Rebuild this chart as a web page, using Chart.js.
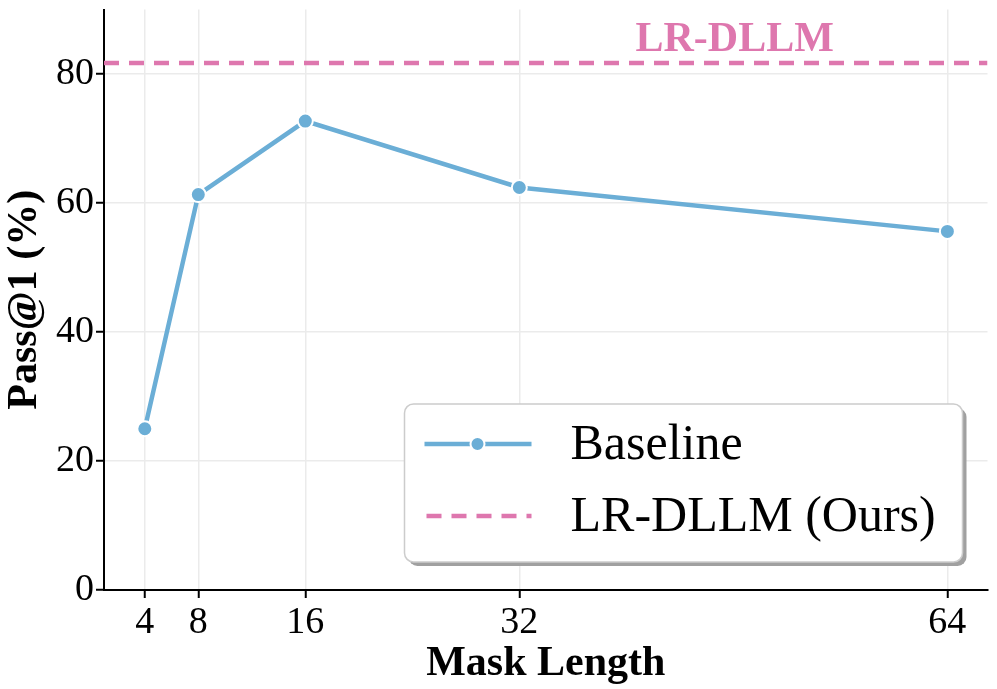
<!DOCTYPE html>
<html>
<head>
<meta charset="utf-8">
<script src="https://cdn.jsdelivr.net/npm/chart.js@4"></script>
<style>
  body { margin: 0; background: #fff; }
  canvas { display: block; }
</style>
</head>
<body>
<canvas id="lineChart" width="997" height="689"></canvas>
<script>
// mask lengths and scores
const maskLengths = [4, 8, 16, 32, 64];
const baselineScores = [25.0, 61.3, 72.7, 62.4, 55.6];
const oursScore = 81.7;
const yTicks = [0, 20, 40, 60, 80];
const xMin = 0.95, xMax = 67.0;

const blue = '#6baed6';
const pink = '#de77ae';
const serif = "'Liberation Serif', 'DejaVu Serif', serif";

// legend box with drop shadow, plus the label over the dashed line
const extras = {
    id: 'extras',
    afterDraw(chart) {
        const ctx = chart.ctx;
        const area = chart.chartArea;
        const yScale = chart.scales.y;
        const xScale = chart.scales.x;

        // "LR-DLLM" label above the dashed line
        ctx.save();
        ctx.fillStyle = pink;
        ctx.font = 'bold 42px ' + serif;
        ctx.textAlign = 'center';
        ctx.textBaseline = 'alphabetic';
        ctx.fillText('LR-DLLM', xScale.getPixelForValue(48.1), yScale.getPixelForValue(oursScore) - 12);
        ctx.restore();

        // legend
        const w = 558, h = 158;
        const bx = area.right - 25 - w;
        const by = area.bottom - 28 - h;
        ctx.save();
        ctx.fillStyle = '#a0a0a0';
        ctx.beginPath();
        ctx.roundRect(bx + 4, by + 4, w, h, 9);
        ctx.fill();
        ctx.fillStyle = '#fff';
        ctx.strokeStyle = '#cccccc';
        ctx.lineWidth = 1.5;
        ctx.beginPath();
        ctx.roundRect(bx, by, w, h, 9);
        ctx.fill();
        ctx.stroke();

        const ds = chart.data.datasets;
        const rows = [by + 40, by + 112];
        ctx.font = '50px ' + serif;
        ctx.fillStyle = '#000';
        ctx.textBaseline = 'middle';
        ctx.textAlign = 'left';

        // row 1: solid line with marker
        ctx.strokeStyle = blue;
        ctx.lineWidth = 4.5;
        ctx.setLineDash([]);
        ctx.beginPath();
        ctx.moveTo(bx + 20, rows[0]);
        ctx.lineTo(bx + 127, rows[0]);
        ctx.stroke();
        ctx.beginPath();
        ctx.arc(bx + 73, rows[0], 7, 0, Math.PI * 2);
        ctx.fillStyle = blue;
        ctx.fill();
        ctx.strokeStyle = '#fff';
        ctx.lineWidth = 2;
        ctx.stroke();
        ctx.fillStyle = '#000';
        ctx.fillText(ds[0].label, bx + 166, rows[0] + 2);

        // row 2: dashed line
        ctx.strokeStyle = pink;
        ctx.lineWidth = 4.5;
        ctx.setLineDash([15, 10]);
        ctx.beginPath();
        ctx.moveTo(bx + 22, rows[1]);
        ctx.lineTo(bx + 127, rows[1]);
        ctx.stroke();
        ctx.setLineDash([]);
        ctx.fillText(ds[1].label, bx + 166, rows[1] + 2);
        ctx.restore();
    }
};

new Chart(document.getElementById('lineChart'), {
    type: 'line',
    data: {
        datasets: [
            {
                label: 'Baseline',
                data: maskLengths.map((m, i) => ({ x: m, y: baselineScores[i] })),
                borderColor: blue,
                backgroundColor: blue,
                borderWidth: 4.5,
                pointRadius: 7.5,
                pointBorderColor: '#fff',
                pointBorderWidth: 2,
                pointBackgroundColor: blue,
                tension: 0
            },
            {
                label: 'LR-DLLM (Ours)',
                data: [{ x: xMin, y: oursScore }, { x: xMax, y: oursScore }],
                borderColor: pink,
                borderWidth: 4.5,
                borderDash: [15, 10],
                pointRadius: 0,
                fill: false
            }
        ]
    },
    options: {
        responsive: false,
        animation: false,
        layout: { padding: { top: 8, right: 9, left: 0, bottom: 0 } },
        plugins: {
            legend: { display: false },
            tooltip: { enabled: false }
        },
        scales: {
            x: {
                type: 'linear',
                min: xMin,
                max: xMax,
                afterBuildTicks: scale => {
                    scale.ticks = maskLengths.map(v => ({ value: v }));
                },
                afterFit: scale => { scale.height = 99; },
                grid: {
                    color: '#ebebeb',
                    lineWidth: 1.5,
                    tickColor: '#000',
                    tickLength: 8,
                    tickWidth: 2
                },
                border: { color: '#000', width: 2 },
                ticks: {
                    color: '#000',
                    font: { family: serif, size: 38 },
                    padding: 2,
                    maxRotation: 0,
                    autoSkip: false
                },
                title: {
                    display: true,
                    text: 'Mask Length',
                    color: '#000',
                    font: { family: serif, size: 42, weight: 'bold' },
                    padding: { top: 0, bottom: 0 }
                }
            },
            y: {
                min: 0,
                max: 90,
                afterBuildTicks: scale => {
                    scale.ticks = yTicks.map(v => ({ value: v }));
                },
                afterFit: scale => {
                    scale.width = 104;
                    scale.paddingTop = 0;
                    scale.paddingBottom = 0;
                },
                grid: {
                    color: '#ebebeb',
                    lineWidth: 1.5,
                    tickColor: '#000',
                    tickLength: 8,
                    tickWidth: 2
                },
                border: { color: '#000', width: 2 },
                ticks: {
                    color: '#000',
                    font: { family: serif, size: 38 },
                    padding: 2
                },
                title: {
                    display: true,
                    text: 'Pass@1 (%)',
                    color: '#000',
                    font: { family: serif, size: 42, weight: 'bold' },
                    padding: { top: 0, bottom: 0 }
                }
            }
        }
    },
    plugins: [extras]
});
</script>
</body>
</html>
